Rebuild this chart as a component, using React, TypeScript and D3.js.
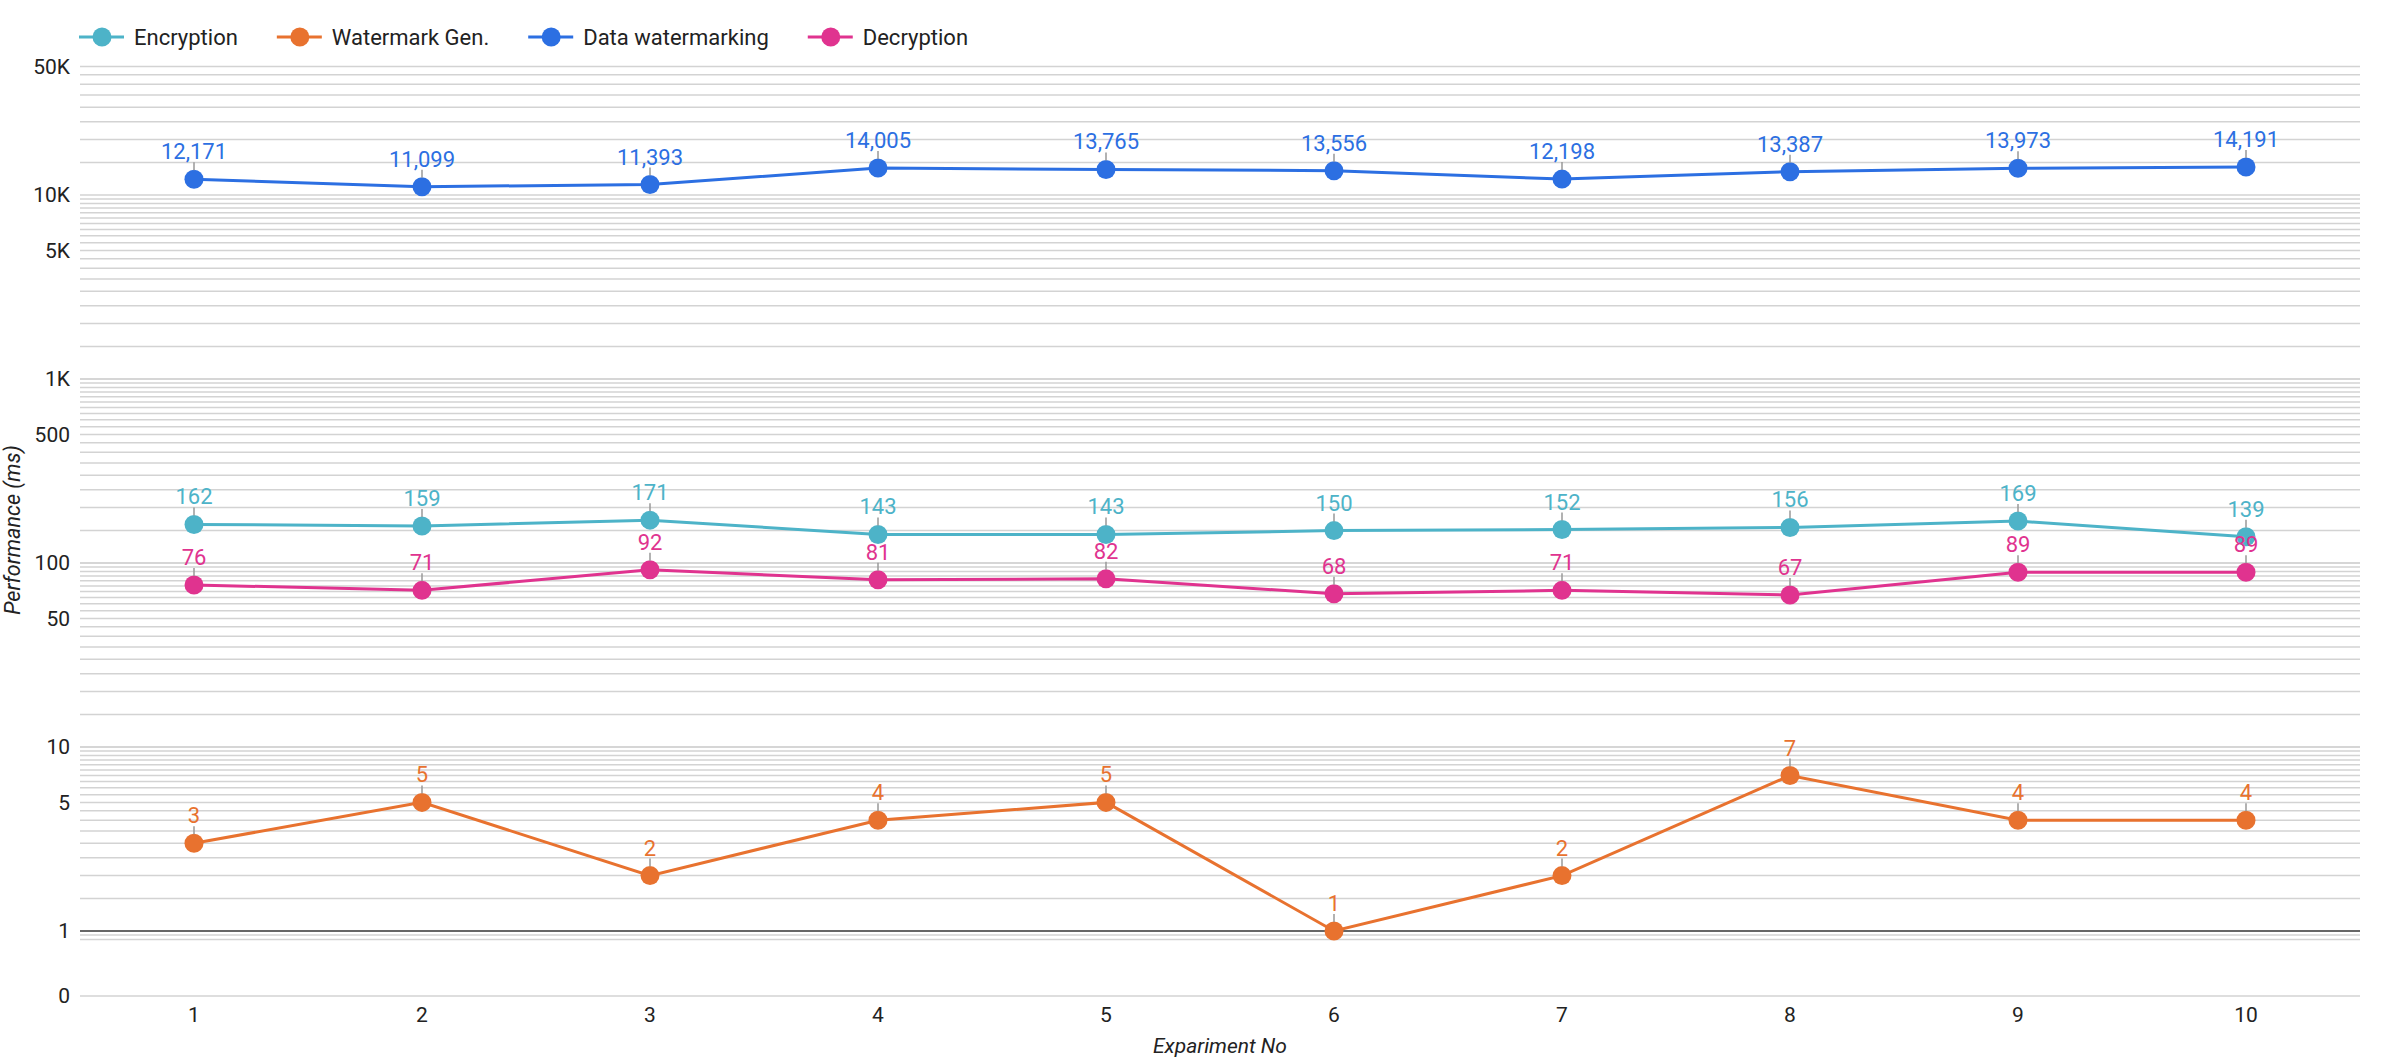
import React, { useEffect, useRef } from "react";
import * as d3 from "d3";

const experiments = ["1", "2", "3", "4", "5", "6", "7", "8", "9", "10"];

const encryption = [162, 159, 171, 143, 143, 150, 152, 156, 169, 139];
const watermarkGen = [3, 5, 2, 4, 5, 1, 2, 7, 4, 4];
const dataWatermarking = [12171, 11099, 11393, 14005, 13765, 13556, 12198, 13387, 13973, 14191];
const decryption = [76, 71, 92, 81, 82, 68, 71, 67, 89, 89];

const seriesNames = ["Encryption", "Watermark Gen.", "Data watermarking", "Decryption"];
const seriesColors = ["#4db3c8", "#e8722f", "#2c6fe2", "#e0338f"];

const yTickValues = [0, 1, 5, 10, 50, 100, 500, 1000, 5000, 10000, 50000];
const yTickLabels = ["0", "1", "5", "10", "50", "100", "500", "1K", "5K", "10K", "50K"];

const W = 2386;
const H = 1060;

export default function App() {
  const svgRef = useRef<SVGSVGElement>(null);

  useEffect(() => {
    if (!svgRef.current) return;
    const svg = d3.select(svgRef.current);
    svg.selectAll("*").remove();

    const font = "Roboto, 'Noto Sans', sans-serif";
    const left = 80;
    const right = 2360;
    const yOne = 931;
    const decade = 184;
    const yZero = 996;

    const x = d3.scalePoint<string>().domain(experiments).range([left, right]).padding(0.5);
    const logY = d3
      .scaleLog()
      .domain([1, 50000])
      .range([yOne, yOne - Math.log10(50000) * decade]);
    const y = (v: number) => (v > 0 ? logY(v) : yZero);

    // minor gridlines: half steps inside each decade, 5K steps above 10K
    const grid: number[] = [0, 0.9, 0.95];
    [1, 10, 100, 1000].forEach((d) => {
      for (let k = 1; k <= 10; k += 0.5) grid.push(d * k);
    });
    for (let v = 15000; v <= 50000; v += 5000) grid.push(v);

    svg
      .append("g")
      .selectAll("line")
      .data(grid.filter((v) => v !== 1))
      .enter()
      .append("line")
      .attr("x1", left)
      .attr("x2", right)
      .attr("y1", (d) => y(d))
      .attr("y2", (d) => y(d))
      .attr("stroke", "#d3d3d3")
      .attr("stroke-width", 1.5);

    // baseline at 1
    svg
      .append("line")
      .attr("x1", left)
      .attr("x2", right)
      .attr("y1", y(1))
      .attr("y2", y(1))
      .attr("stroke", "#333")
      .attr("stroke-width", 1.6);

    // y tick labels
    svg
      .append("g")
      .selectAll("text")
      .data(yTickValues)
      .enter()
      .append("text")
      .attr("x", 70)
      .attr("y", (d) => y(d))
      .attr("dy", "0.35em")
      .attr("text-anchor", "end")
      .attr("font-family", font)
      .attr("font-size", 21)
      .attr("fill", "#222")
      .text((_, i) => yTickLabels[i]);

    // x tick labels
    svg
      .append("g")
      .selectAll("text")
      .data(experiments)
      .enter()
      .append("text")
      .attr("x", (d) => x(d)!)
      .attr("y", 1022)
      .attr("text-anchor", "middle")
      .attr("font-family", font)
      .attr("font-size", 21)
      .attr("fill", "#222")
      .text((d) => d);

    // axis titles
    svg
      .append("text")
      .attr("x", (left + right) / 2)
      .attr("y", 1053)
      .attr("text-anchor", "middle")
      .attr("font-family", font)
      .attr("font-size", 21)
      .attr("font-style", "italic")
      .attr("fill", "#222")
      .text("Expariment No");

    svg
      .append("text")
      .attr("transform", `translate(20,530) rotate(-90)`)
      .attr("text-anchor", "middle")
      .attr("font-family", font)
      .attr("font-size", 21.5)
      .attr("font-style", "italic")
      .attr("fill", "#222")
      .text("Performance (ms)");

    const allSeries = [encryption, watermarkGen, dataWatermarking, decryption];

    const line = d3
      .line<number>()
      .x((_, i) => x(experiments[i])!)
      .y((d) => y(d));

    allSeries.forEach((vals, si) => {
      const g = svg.append("g");
      g.append("path")
        .attr("d", line(vals)!)
        .attr("fill", "none")
        .attr("stroke", seriesColors[si])
        .attr("stroke-width", 3);
      g.selectAll("circle")
        .data(vals)
        .enter()
        .append("circle")
        .attr("cx", (_, i) => x(experiments[i])!)
        .attr("cy", (d) => y(d))
        .attr("r", 9.5)
        .attr("fill", seriesColors[si]);
    });

    // data labels with leader ticks
    const fmt = d3.format(",");
    allSeries.forEach((vals, si) => {
      const g = svg.append("g");
      g.selectAll("line")
        .data(vals)
        .enter()
        .append("line")
        .attr("x1", (_, i) => x(experiments[i])!)
        .attr("x2", (_, i) => x(experiments[i])!)
        .attr("y1", (d) => y(d) - 9)
        .attr("y2", (d) => y(d) - 17)
        .attr("stroke", "#999")
        .attr("stroke-width", 1.5);
      g.selectAll("text")
        .data(vals)
        .enter()
        .append("text")
        .attr("x", (_, i) => x(experiments[i])!)
        .attr("y", (d) => y(d) - 20)
        .attr("text-anchor", "middle")
        .attr("font-family", font)
        .attr("font-size", 22)
        .attr("fill", seriesColors[si])
        .text((d) => fmt(d));
    });

    // legend
    const legend = svg.append("g").attr("transform", "translate(0,37)");
    let cursor = 102;
    seriesNames.forEach((name, i) => {
      const item = legend.append("g").attr("transform", `translate(${cursor},0)`);
      item
        .append("line")
        .attr("x1", -23)
        .attr("x2", 22)
        .attr("stroke", seriesColors[i])
        .attr("stroke-width", 3);
      item.append("circle").attr("r", 9.5).attr("fill", seriesColors[i]);
      const t = item
        .append("text")
        .attr("x", 32)
        .attr("dy", "0.35em")
        .attr("font-family", font)
        .attr("font-size", 22)
        .attr("fill", "#222")
        .text(name);
      const w = (t.node() as SVGTextElement).getComputedTextLength();
      cursor += 32 + w + 62;
    });
  }, []);

  return (
    <div style={{ position: "absolute", left: 0, top: 0, width: W, height: H, background: "#fff" }}>
      <svg ref={svgRef} width={W} height={H} />
    </div>
  );
}
